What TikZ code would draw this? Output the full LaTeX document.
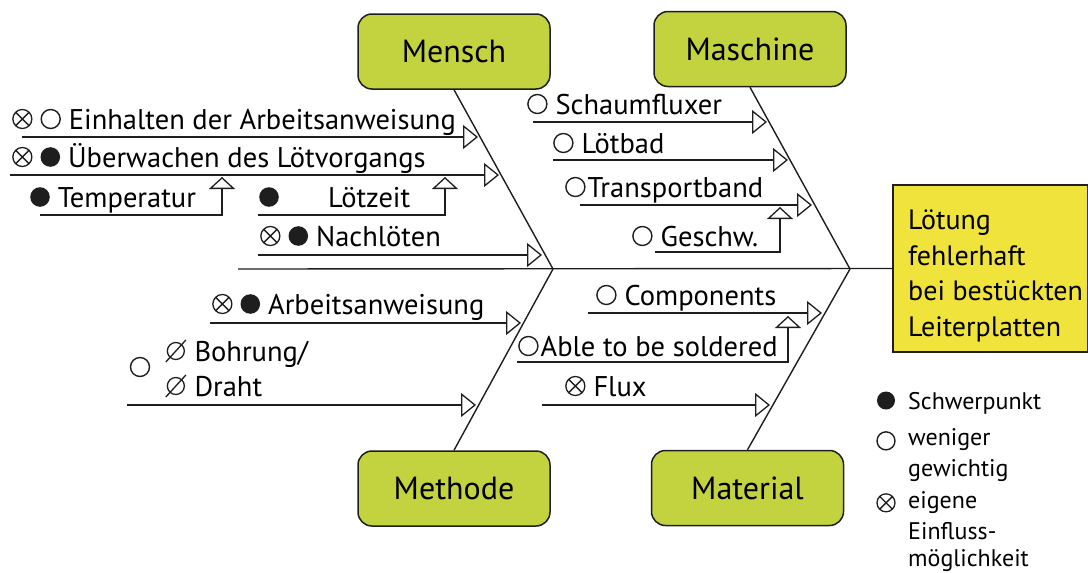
\documentclass[tikz,border=0pt]{standalone}
\usepackage{fontspec}
\setmainfont{PT Sans}
\usetikzlibrary{arrows.meta}
\definecolor{boxgreen}{HTML}{C3D33F}
\definecolor{resyellow}{HTML}{F0E43C}
\definecolor{ink}{HTML}{1E1E1E}
\newcommand{\symX}[1][9.5pt]{\tikz[baseline=-10pt]{\draw[draw=ink, line width=1.3pt] (0,0) circle (#1) (45:#1) -- (225:#1) (135:#1) -- (-45:#1);}}
\newcommand{\symO}[1][9.5pt]{\tikz[baseline=-10pt]{\draw[draw=ink, line width=1.4pt] (0,0) circle (#1);}}
\newcommand{\symB}[1][9.8pt]{\tikz[baseline=-10pt]{\fill[ink] (0,0) circle (#1);}}
\newcommand{\symD}{\tikz[baseline=-10pt]{\draw[draw=ink, line width=1.3pt] (0,0) circle (8.5pt) (-10pt,-11pt) -- (10pt,11pt);}}
\newcommand{\symgap}{\hspace{8pt}}
\tikzset{
  cat/.style={draw=ink, line width=1.5pt, fill=boxgreen, rounded corners=14pt,
    minimum width=192pt, minimum height=75pt, font=\fontsize{32}{36}\selectfont},
  lab/.style={anchor=base west, inner sep=0pt, font=\fontsize{28.5}{32}\selectfont},
  leg/.style={anchor=base west, inner sep=0pt, font=\fontsize{24}{28}\selectfont},
  bone/.style={draw=ink, line width=1.4pt},
  sub/.style={draw=ink, line width=1.3pt},
  harr/.style={sub, -{Triangle[open, length=15pt, width=24pt, line width=1.3pt]}},
  varr/.style={sub, -{Triangle[open, length=12pt, width=26pt, line width=1.3pt]}},
}
\begin{document}
\begin{tikzpicture}[x=1pt, y=-1pt]
\useasboundingbox (0,0) rectangle (1088,573);
% category boxes
\node[cat] (mensch) at (454,51.5) {Mensch};
\node[cat] (maschine) at (750,49) {Maschine};
\node[cat] (methode) at (454,488.5) {Methode};
\node[cat] (material) at (747.5,488) {Material};
% result box
\node[draw=ink, line width=1.5pt, fill=resyellow, minimum width=195pt, minimum height=167pt]
  (res) at (990.5,268.5) {};
\node[anchor=west, align=left, inner sep=0pt, font=\fontsize{28}{35.5}\selectfont]
  (restext) at (908,276) {Lötung\\fehlerhaft\\bei bestückten\\Leiterplatten};
% spine and bones
\coordinate (s0) at (238,269);
\coordinate (jL) at (553,269);
\coordinate (jR) at (850,269);
\draw[bone] (s0) -- (res.west);
\draw[bone] (mensch.south) -- (jL);
\draw[bone] (maschine.south) -- (jR);
\draw[bone] (jL) -- (methode.north);
\draw[bone] (jR) -- (material.north);

% Mensch
\node[lab] (t1) at (12,129) {\symX\symgap\symO\symgap Einhalten der Arbeitsanweisung};
\coordinate (a1) at (22,137); \coordinate (b1) at (478,137);
\draw[harr] (a1) -- (b1);
\node[lab] (t2) at (12,167) {\symX\symgap\symB\symgap Überwachen des Lötvorgangs};
\coordinate (a2) at (10,175); \coordinate (b2) at (499,175);
\draw[harr] (a2) -- (b2);
\node[lab] (t3) at (30,207) {\symB\symgap Temperatur};
\coordinate (a3) at (40,215); \coordinate (c3) at (222,215); \coordinate (b3) at (222,177);
\draw[varr] (a3) -- (c3) -- (b3);
\node[lab] (t4) at (259,207) {\symB};
\node[lab] (t4b) at (328,207) {Lötzeit};
\coordinate (a4) at (258,215); \coordinate (c4) at (445,215); \coordinate (b4) at (445,177);
\draw[varr] (a4) -- (c4) -- (b4);
\node[lab] (t5) at (260,246) {\symX\symgap\symB\symgap Nachlöten};
\coordinate (a5) at (258,255); \coordinate (b5) at (542,255);
\draw[harr] (a5) -- (b5);

% Maschine
\node[lab] (t6) at (527,114) {\symO\symgap Schaumfluxer};
\coordinate (a6) at (533,122); \coordinate (b6) at (767,122);
\draw[harr] (a6) -- (b6);
\node[lab] (t7) at (553,153) {\symO\symgap Lötbad};
\coordinate (a7) at (553,160); \coordinate (b7) at (788,160);
\draw[harr] (a7) -- (b7);
\node[lab] (t8) at (565,197) {\symO\hspace{2pt}Transportband};
\coordinate (a8) at (580,205); \coordinate (b8) at (812,205);
\draw[harr] (a8) -- (b8);
\node[lab] (t9) at (632,246) {\symO\symgap Geschw.};
\coordinate (a9) at (655,252); \coordinate (c9) at (780,252); \coordinate (b9) at (780,207);
\draw[varr] (a9) -- (c9) -- (b9);

% Methode
\node[lab] (t10) at (212,314) {\symX\symgap\symB\symgap Arbeitsanweisung};
\coordinate (a10) at (210,323); \coordinate (b10) at (521,323);
\draw[harr] (a10) -- (b10);
\node[lab, anchor=center] (t11a) at (140,367) {\symO};
\node[lab] (t11) at (165,361) {\symD\symgap Bohrung/};
\node[lab] (t11b) at (165,396) {\symD\symgap Draht};
\coordinate (a11) at (127,405); \coordinate (b11) at (476,405);
\draw[harr] (a11) -- (b11);

% Material
\node[lab] (t12) at (596,305) {\symO\symgap Components};
\coordinate (a12) at (588,313); \coordinate (b12) at (822,313);
\draw[harr] (a12) -- (b12);
\node[lab] (t13) at (518,356) {\symO\hspace{2pt}Able to be soldered};
\coordinate (a13) at (517,362); \coordinate (c13) at (788,362); \coordinate (b13) at (788,316);
\draw[varr] (a13) -- (c13) -- (b13);
\node[lab] (t14) at (565,396) {\symX\symgap Flux};
\coordinate (a14) at (542,405); \coordinate (b14) at (770,405);
\draw[harr] (a14) -- (b14);

% legend
\node[leg, anchor=center] (l1s) at (886,401) {\symB[9pt]};
\node[leg] (l1) at (908,409) {Schwerpunkt};
\node[leg, anchor=center] (l2s) at (886,441) {\symO[9pt]};
\node[leg] (l2) at (908,445) {weniger};
\node[leg] (l2b) at (908,476) {gewichtig};
\node[leg, anchor=center] (l3s) at (886,503) {\symX[9pt]};
\node[leg] (l3) at (908,508) {eigene};
\node[leg] (l3b) at (908,539) {Einfluss-};
\node[leg] (l3c) at (908,566) {möglichkeit};
\end{tikzpicture}
\end{document}
